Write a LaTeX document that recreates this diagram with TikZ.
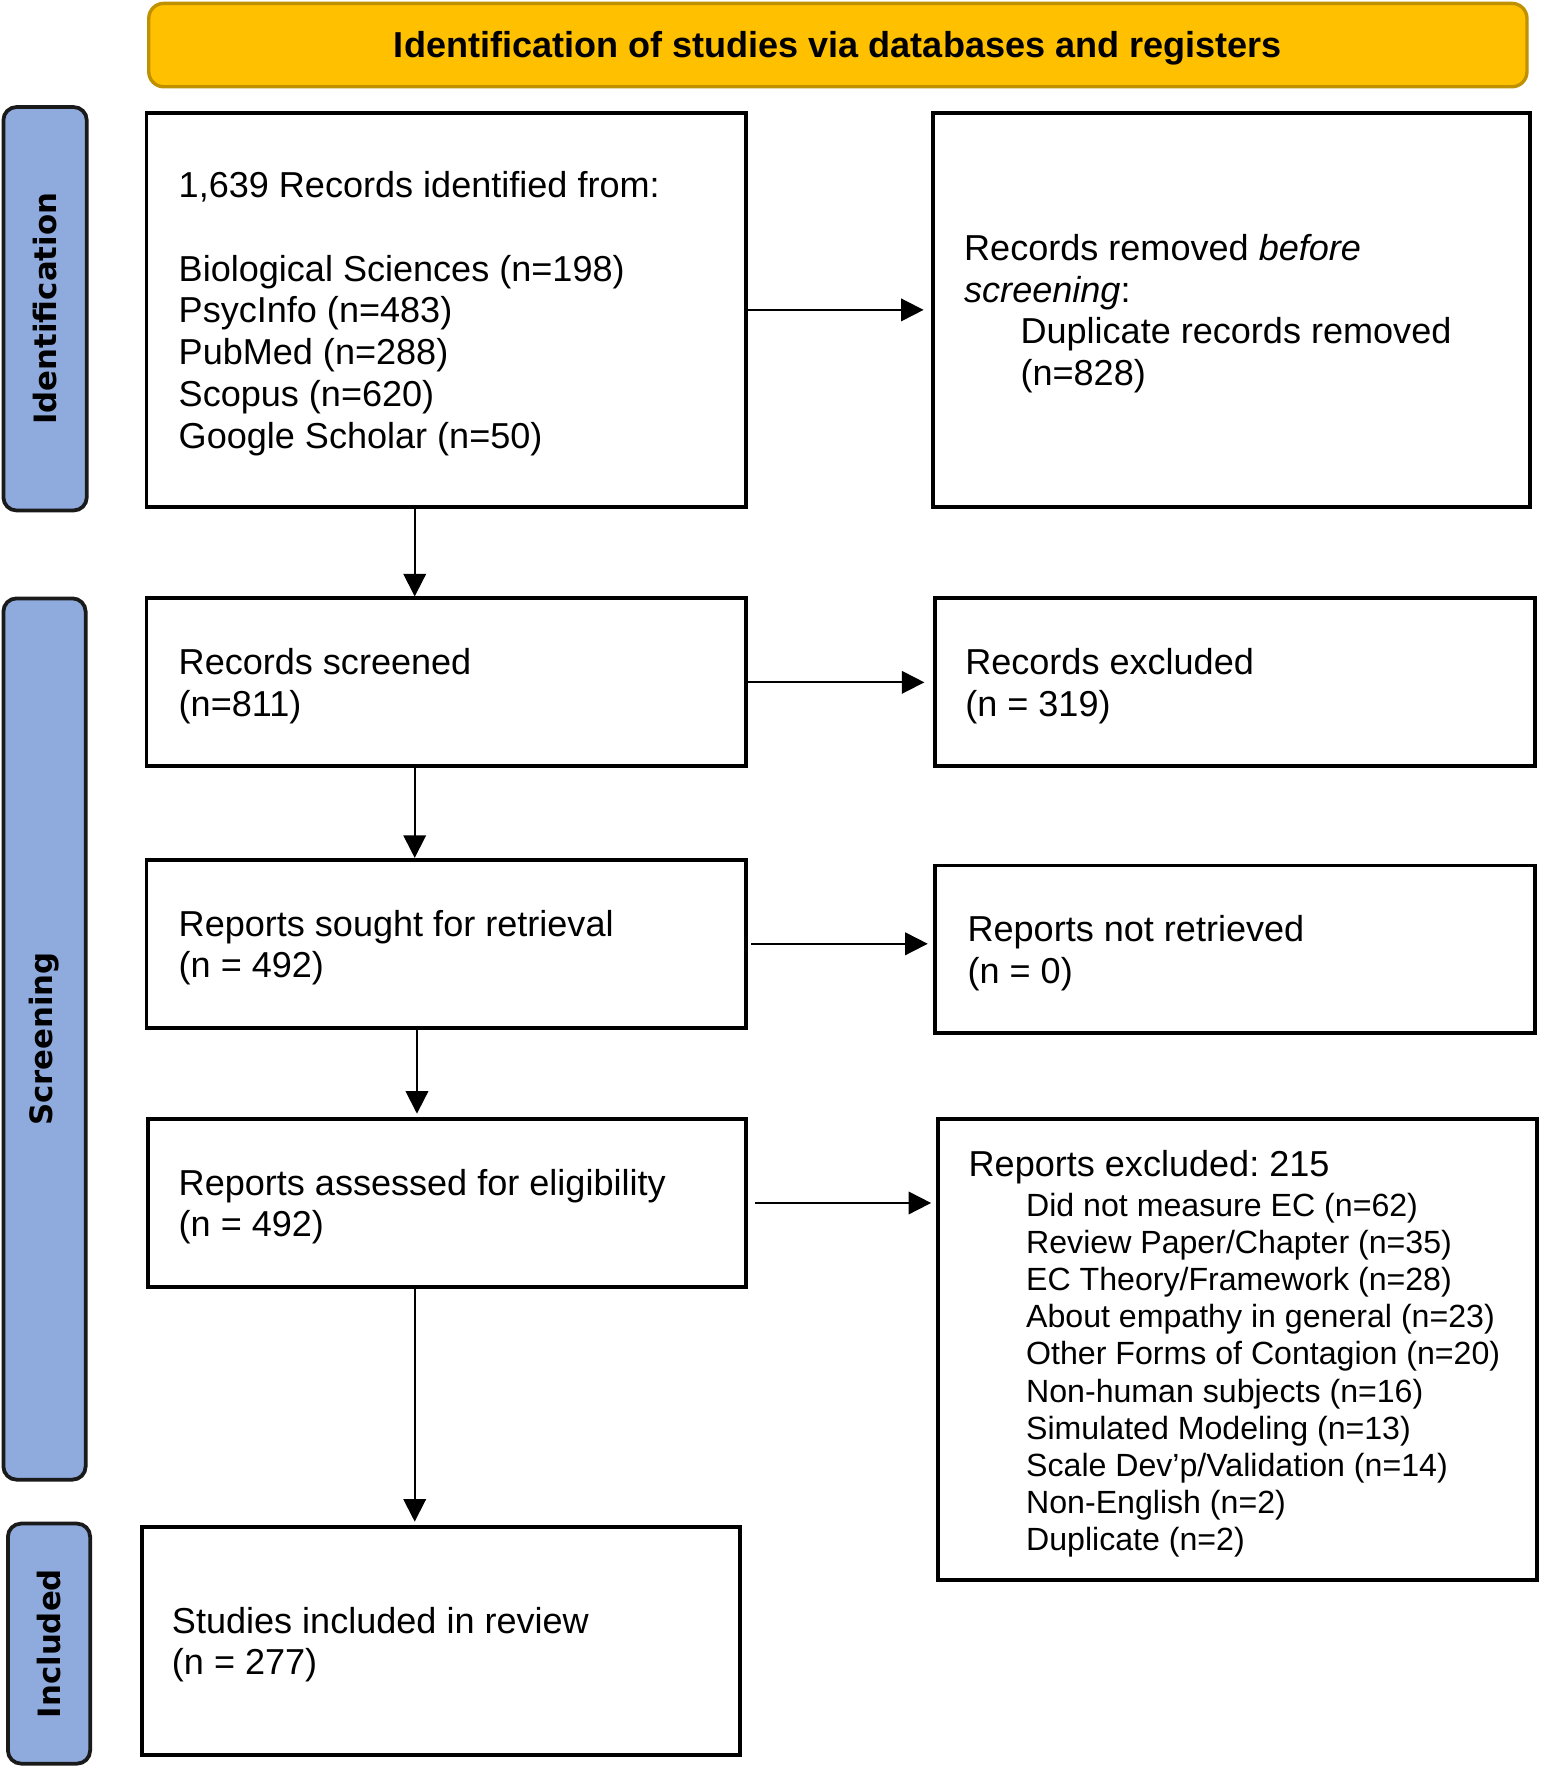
\documentclass[tikz,border=0pt]{standalone}
\usepackage{fontspec}
\setmainfont{Liberation Sans}
\newfontfamily\sidefont{DejaVu Sans}
\usetikzlibrary{arrows.meta}
\definecolor{hdrfill}{HTML}{FFC000}
\definecolor{hdrline}{HTML}{BF9000}
\definecolor{sidefill}{HTML}{8FAADC}
\definecolor{sideline}{HTML}{1A1A1A}
\frenchspacing
\begin{document}
\begin{tikzpicture}[x=0.6pt,y=-0.6pt,
  box/.style={draw=black,line width=2.1pt,fill=white,inner sep=0pt},
  txt/.style={anchor=west,inner sep=0pt,align=left,yshift=-2pt,font=\frenchspacing\fontsize{19.2}{22.2}\selectfont},
  smalltxt/.style={anchor=west,inner sep=0pt,align=left,yshift=-2.4pt,font=\frenchspacing\fontsize{17.1}{19.8}\selectfont},
  side/.style={draw=sideline,fill=sidefill,line width=2pt,rounded corners=7pt,inner sep=0pt,rotate=90,font=\sidefont\bfseries\fontsize{16.4}{19}\selectfont},
  arr/.style={line width=1pt,-{Triangle[length=12pt,width=12pt]}}]
\useasboundingbox (0,0) rectangle (1368,1568);

% header
\node[draw=hdrline,fill=hdrfill,line width=1.8pt,rounded corners=8pt,
      minimum width=733.8pt,minimum height=44.4pt,inner sep=0pt,
      font=\bfseries\fontsize{19.2}{22}\selectfont] (hdr) at (743.5,40)
      {\raisebox{-1.8pt}[\height][\depth]{Identification of studies via databases and registers}};

% side bars
\node[side,minimum width=214.8pt,minimum height=44.4pt] (s1) at (40,274) {Identification};
\node[side,minimum width=469.2pt,minimum height=43.8pt] (s2) at (39.5,922) {Screening};
\node[side,minimum width=127.8pt,minimum height=43.8pt] (s3) at (43.5,1458.5) {Included};

% boxes
\node[box,minimum width=319.2pt,minimum height=210pt] (b1) at (396,275) {};
\node[box,minimum width=318pt,minimum height=210pt] (b2) at (1093,275) {};
\node[box,minimum width=319.2pt,minimum height=89.4pt] (b3) at (396,605.5) {};
\node[box,minimum width=319.2pt,minimum height=89.4pt] (b4) at (1096,605.5) {};
\node[box,minimum width=319.2pt,minimum height=89.4pt] (b5) at (396,837.5) {};
\node[box,minimum width=319.2pt,minimum height=89.4pt] (b6) at (1096,842.5) {};
\node[box,minimum width=318.6pt,minimum height=89.4pt] (b7) at (396.5,1067.5) {};
\node[box,minimum width=319.2pt,minimum height=245.4pt] (b8) at (1098,1197.5) {};
\node[box,minimum width=318.6pt,minimum height=121.2pt] (b9) at (391.5,1456) {};

% texts
\node[txt] (t1) at ([xshift=18pt]b1.west) {1,639 Records identified from:\\[22.2pt]Biological Sciences (n=198)\\PsycInfo (n=483)\\PubMed (n=288)\\Scopus (n=620)\\Google Scholar (n=50)};
\node[txt] (t2) at ([xshift=17.4pt]b2.west) {Records removed \textit{before}\\\textit{screening}:\\\hspace*{30pt}Duplicate records removed\\\hspace*{30pt}(n=828)};
\node[txt] (t3) at ([xshift=18pt]b3.west) {Records screened\\(n=811)};
\node[txt] (t4) at ([xshift=16.8pt]b4.west) {Records excluded\\(n = 319)};
\node[txt] (t5) at ([xshift=18pt]b5.west) {Reports sought for retrieval\\(n = 492)};
\node[txt] (t6) at ([xshift=18pt]b6.west) {Reports not retrieved\\(n = 0)};
\node[txt] (t7) at ([xshift=17.4pt]b7.west) {Reports assessed for eligibility\\(n = 492)};
\node[smalltxt] (t8) at ([xshift=17.4pt]b8.west) {{\fontsize{19.2}{22.2}\selectfont Reports excluded: 215}\\[1.2pt]%
\hspace*{30.6pt}Did not measure EC (n=62)\\
\hspace*{30.6pt}Review Paper/Chapter (n=35)\\
\hspace*{30.6pt}EC Theory/Framework (n=28)\\
\hspace*{30.6pt}About empathy in general (n=23)\\
\hspace*{30.6pt}Other Forms of Contagion (n=20)\\
\hspace*{30.6pt}Non-human subjects (n=16)\\
\hspace*{30.6pt}Simulated Modeling (n=13)\\
\hspace*{30.6pt}Scale Dev’p/Validation (n=14)\\
\hspace*{30.6pt}Non-English (n=2)\\
\hspace*{30.6pt}Duplicate (n=2)};
\node[txt] (t9) at ([xshift=16.8pt]b9.west) {Studies included in review\\(n = 277)};

% connectors
\coordinate (vx) at (368,0);
\coordinate (vy) at (370,0);
\draw[arr,shorten >=4pt] (b1.east) -- (b1.east -| b2.west);
\draw[arr,shorten >=4.8pt] (b3.east) -- (b3.east -| b4.west);
\draw[arr,shorten <=1.8pt,shorten >=3pt] (b5.east) -- (b5.east -| b6.west);
\draw[arr,shorten <=3.6pt,shorten >=2.4pt] (b7.east) -- (b7.east -| b8.west);
\draw[arr] (vx |- b1.south) -- (vx |- b3.north);
\draw[arr] (vx |- b3.south) -- (vx |- b5.north);
\draw[arr,shorten >=1.8pt] (vy |- b5.south) -- (vy |- b7.north);
\draw[arr,shorten >=1.8pt] (vx |- b7.south) -- (vx |- b9.north);
\end{tikzpicture}
\end{document}
